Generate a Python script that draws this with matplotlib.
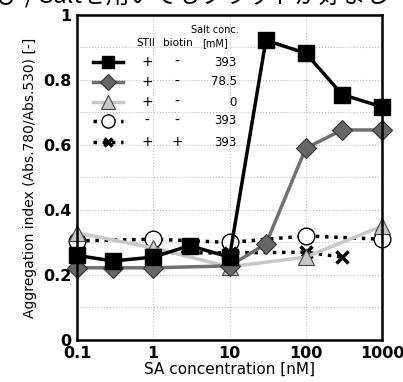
import numpy as np
import matplotlib
matplotlib.use('Agg')
import matplotlib.pyplot as plt

# data
x_sq = [0.1, 0.3, 1, 3, 10, 30, 100, 300, 1000]
y_sq = [0.26, 0.243, 0.255, 0.29, 0.255, 0.922, 0.882, 0.755, 0.717]

x_dia = [0.1, 0.3, 1, 10, 30, 100, 300, 1000]
y_dia = [0.222, 0.222, 0.222, 0.228, 0.295, 0.59, 0.646, 0.646]

x_tri = [0.1, 1, 10, 100, 1000]
y_tri = [0.33, 0.283, 0.225, 0.255, 0.35]

x_circ = [0.1, 1, 10, 100, 1000]
y_circ = [0.305, 0.31, 0.30, 0.32, 0.31]

x_x = [1, 10, 100, 300]
y_x = [0.268, 0.268, 0.27, 0.255]

legend_stii = ['+', '+', '+', '-', '+']
legend_biotin = ['-', '-', '-', '-', '+']
legend_salt = ['393', '78.5', '0', '393', '393']

plt.rcParams['font.family'] = ['DejaVu Sans', 'Noto Sans CJK JP']

fig = plt.figure(figsize=(4.03, 3.82), dpi=100)
ax = fig.add_axes([0.191, 0.11, 0.757, 0.851])

# clipped caption line at the very top
fig.text(-0.01, 1.012, 'び / Saltを用いてもプラットが好まし', fontsize=17,
         family=['Noto Sans CJK JP', 'DejaVu Sans'], va='center', ha='left')

ax.plot(x_circ, y_circ, ':', color='black', lw=2.5, marker='o', ms=12,
        mfc='white', mec='black', mew=1, zorder=3, clip_on=False)
ax.plot(x_x, y_x, ':', color='black', lw=2.5, marker='x', ms=8,
        mew=2.5, zorder=3, clip_on=False)
ax.plot(x_tri, y_tri, '-', color='#c8c8c8', lw=2.5, marker='^', ms=12,
        mfc='#c8c8c8', mec='#444444', mew=0.8, zorder=4, clip_on=False)
ax.plot(x_dia, y_dia, '-', color='#707070', lw=2.5, marker='D', ms=10,
        mfc='#666666', mec='#333333', mew=0.8, zorder=5, clip_on=False)
ax.plot(x_sq, y_sq, '-', color='black', lw=2.5, marker='s', ms=11,
        mfc='black', mec='black', zorder=6, clip_on=False)

ax.set_xscale('log')
ax.set_xlim(0.1, 1000)
ax.set_ylim(0, 1)
ax.set_xticks([0.1, 1, 10, 100, 1000])
ax.set_xticklabels(['0.1', '1', '10', '100', '1000'])
ax.set_yticks([0, 0.2, 0.4, 0.6, 0.8, 1.0])
ax.set_yticklabels(['0', '0.2', '0.4', '0.6', '0.8', '1'])
ax.set_yticks(np.arange(0.1, 1.0, 0.2), minor=True)
ax.xaxis.set_minor_locator(matplotlib.ticker.NullLocator())
ax.tick_params(which='both', length=0, labelsize=11.5, pad=4)
for lab in ax.get_xticklabels() + ax.get_yticklabels():
    lab.set_fontweight('bold')
ax.grid(True, which='both', ls=':', color='#bbbbbb', lw=0.8)
for s in ax.spines.values():
    s.set_linewidth(1.8)
    s.set_zorder(10)

ax.set_xlabel('SA concentration [nM]', fontsize=11, labelpad=1)
ax.set_ylabel('Aggregation index (Abs.780/Abs.530) [-]', fontsize=10, labelpad=4)

# hand-made legend table
line_styles = [
    dict(ls='-', color='black'),
    dict(ls='-', color='#707070'),
    dict(ls='-', color='#c8c8c8'),
    dict(ls=':', color='black'),
    dict(ls=':', color='black'),
]
mark_styles = [
    dict(marker='s', ms=8.5, mfc='black', mec='black'),
    dict(marker='D', ms=8, mfc='#666666', mec='#333333', mew=0.8),
    dict(marker='^', ms=9.5, mfc='#c8c8c8', mec='#444444', mew=0.8),
    dict(marker='o', ms=9.5, mfc='white', mec='black', mew=1),
    dict(marker='x', ms=6, mew=2.5, color='black'),
]
row_y = [0.855, 0.794, 0.732, 0.674, 0.609]
for i in range(5):
    ax.plot([0.162, 0.40], [row_y[i]] * 2, lw=2.5, zorder=7, **line_styles[i])
    ax.plot([0.255], [row_y[i]], lw=0, zorder=8, **mark_styles[i])
    ax.text(0.83, row_y[i], legend_stii[i], ha='center', va='center', fontsize=10)
    ax.text(2.04, row_y[i], legend_biotin[i], ha='center', va='center', fontsize=10)
    ax.text(12.5, row_y[i], legend_salt[i], ha='right', va='center', fontsize=8.5)
ax.text(0.80, 0.915, 'STII', ha='center', va='center', fontsize=7.5)
ax.text(2.1, 0.915, 'biotin', ha='center', va='center', fontsize=7.5)
ax.text(6.5, 0.933, 'Salt conc.\n[mM]', ha='center', va='center', fontsize=7,
        linespacing=1.3)

fig.savefig('out.png', dpi=100)
